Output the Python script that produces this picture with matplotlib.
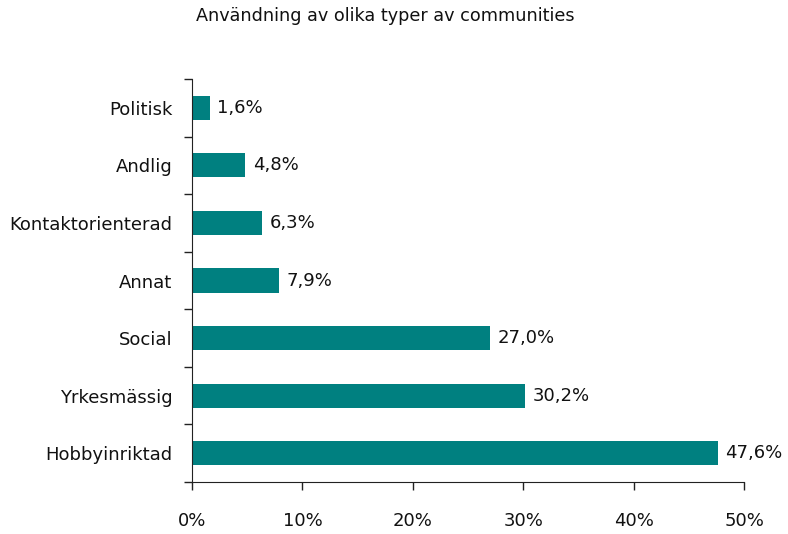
import matplotlib
matplotlib.use("Agg")
import matplotlib.pyplot as plt
from matplotlib.ticker import FixedLocator

categories = ["Hobbyinriktad", "Yrkesmässig", "Social", "Annat", "Kontaktorienterad", "Andlig", "Politisk"]
values = [47.6, 30.2, 27.0, 7.9, 6.3, 4.8, 1.6]
xticks = [0, 10, 20, 30, 40, 50]
xticklabels = ["0%", "10%", "20%", "30%", "40%", "50%"]
title = "Användning av olika typer av communities"

plt.rcParams['font.family'] = ['DejaVu Sans']

fig = plt.figure(figsize=(7.88, 5.34), dpi=100)
ax = fig.add_axes([192/788, 1-482/534, (744-192)/788, (482-79)/534])

color = "#008080"
fs = 13
ypos = list(range(len(categories)))
ax.barh(ypos, values, height=0.42, color=color)
for y, v in zip(ypos, values):
    ax.text(v + 0.7, y, f"{v:.1f}%".replace(".", ","), va="center", ha="left", fontsize=fs, color="#111111")

ax.set_xlim(0, 50)
ax.set_ylim(-0.5, len(categories) - 0.5)
ax.set_xticks(xticks)
ax.set_xticklabels(xticklabels, fontsize=fs, color="#111111")
ax.set_yticks(ypos)
ax.set_yticklabels(categories, fontsize=fs, color="#111111")
ax.yaxis.set_minor_locator(FixedLocator([i - 0.5 for i in range(len(categories) + 1)]))
ax.tick_params(axis='y', which='major', length=0, pad=14)
ax.tick_params(axis='y', which='minor', length=5.8, width=1, direction='out', color="#222222")
ax.tick_params(axis='x', which='major', length=5.8, width=1, direction='out', pad=16, color="#222222")
for s in ["top", "right"]:
    ax.spines[s].set_visible(False)
ax.spines["left"].set_color("#222222")
ax.spines["bottom"].set_color("#222222")

fig.text(385/788, 1-16/534, title, ha="center", va="center", fontsize=12.7, color="#111111")

fig.savefig("out.png", dpi=100)
